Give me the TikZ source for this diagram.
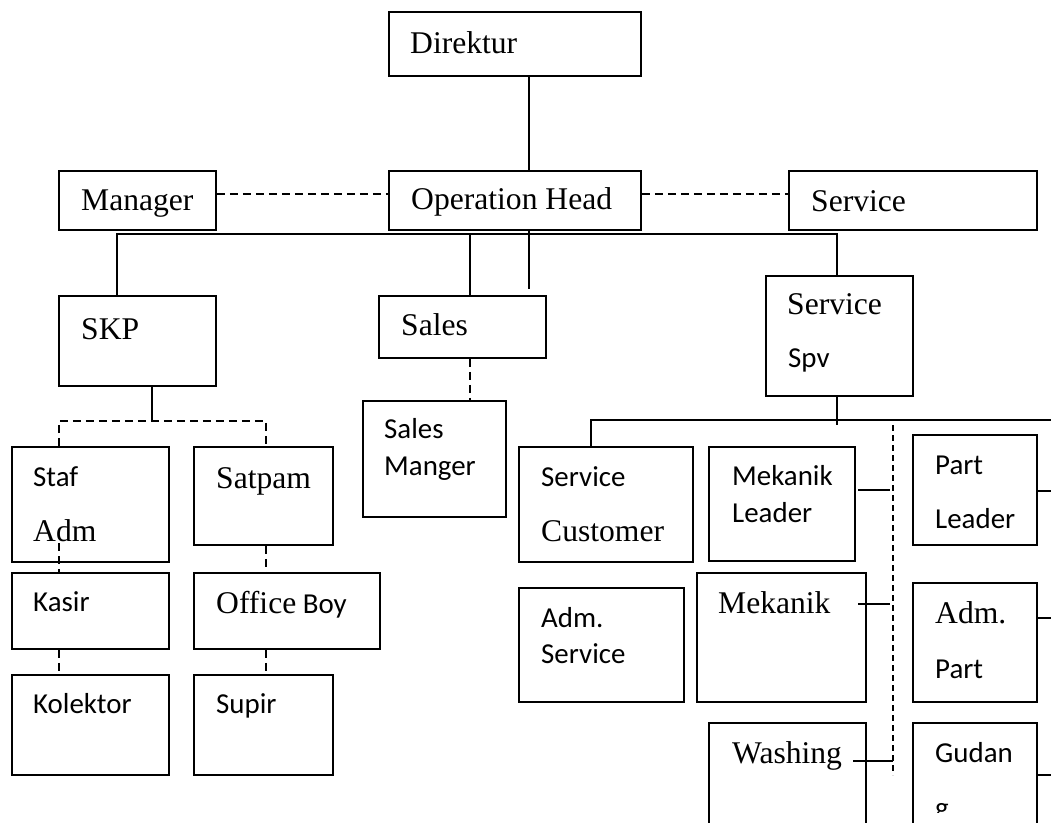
\documentclass[tikz,border=0pt]{standalone}
\usepackage{fontspec}
\usetikzlibrary{fit}
\newfontfamily\serf{Liberation Serif}
\newfontfamily\sanf{Carlito}
\tikzset{
  box/.style={draw, line width=1.6pt, inner sep=0pt, rectangle},
  ts/.style={inner sep=0pt, anchor=base west, font=\serf\fontsize{31.6}{38}\selectfont},
  tc/.style={inner sep=0pt, anchor=base west, font=\sanf\fontsize{28.9}{35}\selectfont},
  ln/.style={line width=1.6pt},
  dl/.style={line width=1.6pt, dash pattern=on 8pt off 5pt},
  dv/.style={line width=1.4pt, dash pattern=on 6pt off 4pt}
}
\begin{document}
\begin{tikzpicture}[x=1pt,y=-1pt]
\useasboundingbox (0,0) rectangle (1051,822);
\clip (0,0) rectangle (1051,822);
% boxes
\node[box, fit={(389,12) (641,76)}] (dir) {};
\node[box, fit={(389,171) (641,230)}] (oph) {};
\node[box, fit={(59,171) (216,230)}] (mgr) {};
\node[box, fit={(789,171) (1037,230)}] (svc) {};
\node[box, fit={(59,296) (216,386)}] (skp) {};
\node[box, fit={(379,296) (546,358)}] (sales) {};
\node[box, fit={(766,276) (913,396)}] (spv) {};
\node[box, fit={(363,401) (506,517)}] (salesm) {};
\node[box, fit={(12,447) (169,562)}] (staf) {};
\node[box, fit={(194,447) (333,545)}] (satpam) {};
\node[box, fit={(12,573) (169,649)}] (kasir) {};
\node[box, fit={(194,573) (380,649)}] (oboy) {};
\node[box, fit={(12,675) (169,775)}] (kolek) {};
\node[box, fit={(194,675) (333,775)}] (supir) {};
\node[box, fit={(519,447) (693,562)}] (scust) {};
\node[box, fit={(519,588) (684,702)}] (admsvc) {};
\node[box, fit={(709,447) (855,561)}] (mekl) {};
\node[box, fit={(697,573) (866,702)}] (mek) {};
\node[box, fit={(709,723) (866,840)}] (wash) {};
\node[box, fit={(913,435) (1037,545)}] (partl) {};
\node[box, fit={(913,583) (1037,702)}] (admp) {};
\node[box, fit={(913,723) (1037,840)}] (gud) {};
% coordinates
\coordinate (c529) at (529,0);
\coordinate (hL) at (117,234);
\coordinate (hR) at (837,234);
\coordinate (c470) at (470,234);
\coordinate (opx) at (529,289);
\coordinate (yd) at (0,194);
\coordinate (skpj) at (152,421);
\coordinate (sl) at (59,421);
\coordinate (sr) at (266,421);
\coordinate (stafin) at (59,543);
\coordinate (spvj) at (837,425);
\coordinate (srvL) at (591,420);
\coordinate (srvR) at (1051,420);
\coordinate (dvT) at (893,425);
\coordinate (dvB) at (893,775);
\coordinate (m1a) at (858,490);
\coordinate (m1b) at (890,490);
\coordinate (m2a) at (858,604);
\coordinate (m2b) at (890,604);
\coordinate (m3a) at (853,761);
\coordinate (m3b) at (893,761);
\coordinate (e1) at (1051,491);
\coordinate (e2) at (1051,618);
\coordinate (e3) at (1051,775);
% connectors
\draw[ln] (dir.south -| c529) -- (oph.north -| c529);
\draw[dl] (mgr.east |- yd) -- (oph.west |- yd);
\draw[dl] (oph.east |- yd) -- (svc.west |- yd);
\draw[ln] (oph.south -| c529) -- (opx);
\draw[ln] (skp.north -| hL) -- (hL) -- (hR) -- (spv.north -| hR);
\draw[ln] (c470) -- (sales.north -| c470);
\draw[ln] (skp.south -| skpj) -- (skpj);
\draw[dl] (staf.north -| sl) -- (sl) -- (sr) -- (satpam.north -| sr);
\draw[dl] (stafin) -- (kasir.north -| stafin);
\draw[dl] (satpam.south -| sr) -- (oboy.north -| sr);
\draw[dl] (kasir.south -| sl) -- (kolek.north -| sl);
\draw[dl] (oboy.south -| sr) -- (supir.north -| sr);
\draw[dl] (sales.south -| c470) -- (salesm.north -| c470);
\draw[ln] (spv.south -| spvj) -- (spvj);
\draw[ln] (scust.north -| srvL) -- (srvL) -- (srvR);
\draw[dv] (dvT) -- (dvB);
\draw[ln] (m1a) -- (m1b);
\draw[ln] (m2a) -- (m2b);
\draw[ln] (m3a) -- (m3b);
\draw[ln] (partl.east |- e1) -- (e1);
\draw[ln] (admp.east |- e2) -- (e2);
\draw[ln] (gud.east |- e3) -- (e3);
% texts
\node[ts] (tdir) at (410,53) {Direktur};
\node[ts] (toph) at (411,209) {Operation Head};
\node[ts] (tmgr) at (81,210) {Manager};
\node[ts] (tsvc) at (811,211) {Service};
\node[ts] (tskp) at (81,339) {SKP};
\node[ts] (tsales) at (401,335) {Sales};
\node[ts] (tspv1) at (787,314) {Service};
\node[tc] (tspv2) at (788,367) {Spv};
\node[tc] (tsm1) at (384,438) {Sales};
\node[tc] (tsm2) at (384,475) {Manger};
\node[tc] (tstaf1) at (33,486) {Staf};
\node[ts] (tstaf2) at (33,541) {Adm};
\node[ts] (tsatpam) at (216,488) {Satpam};
\node[tc] (tkasir) at (33,611) {Kasir};
\node[ts] (toboy) at (216,613) {Office\sanf\fontsize{28.9}{35}\selectfont{} Boy};
\node[tc] (tkolek) at (33,713) {Kolektor};
\node[tc] (tsupir) at (216,713) {Supir};
\node[tc] (tsc1) at (541,486) {Service};
\node[ts] (tsc2) at (541,541) {Customer};
\node[tc] (tas1) at (541,627) {Adm.};
\node[tc] (tas2) at (541,663) {Service};
\node[tc] (tml1) at (732,485) {Mekanik};
\node[tc] (tml2) at (732,522) {Leader};
\node[ts] (tmek) at (718,613) {Mekanik};
\node[ts] (twash) at (732,763) {Washing};
\node[tc] (tpl1) at (935,474) {Part};
\node[tc] (tpl2) at (935,528) {Leader};
\node[ts] (tap1) at (935,623) {Adm.};
\node[tc] (tap2) at (935,678) {Part};
\node[tc] (tgud) at (935,762) {Gudan};
\begin{scope}
\clip (913,723) rectangle (1037,812);
\node[tc] (tgud2) at (935,817) {g};
\end{scope}
\end{tikzpicture}
\end{document}
